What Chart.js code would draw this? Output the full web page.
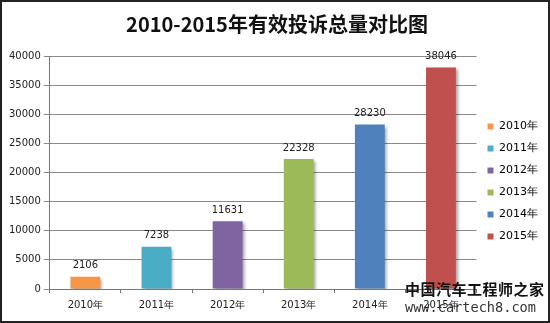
<!DOCTYPE html>
<html>
<head>
<meta charset="utf-8">
<script src="https://cdn.jsdelivr.net/npm/chart.js@4.4.0/dist/chart.umd.min.js"></script>
<style>
  html, body { margin: 0; padding: 0; background: #fff; }
  #wrap {
    position: relative;
    width: 550px;
    height: 323px;
    box-sizing: border-box;
    border: 2px solid #222;
    background: #fff;
  }
  #wm1, #wm2 { position: absolute; white-space: nowrap; }
  #wm1 {
    left: 403px; top: 276px;
    font: bold 15px "Noto Sans CJK SC", sans-serif;
    color: #111; letter-spacing: 0.5px;
  }
  #wm2 {
    left: 403px; top: 297px;
    font: 13.6px "DejaVu Sans Mono", monospace;
    color: #333;
  }
</style>
</head>
<body>
<div id="wrap">
  <canvas id="chart" width="546" height="319"></canvas>
  <div id="wm1">中国汽车工程师之家</div>
  <div id="wm2">www.cartech8.com</div>
</div>
<script>
const years = ["2010年", "2011年", "2012年", "2013年", "2014年", "2015年"];
const complaints = [2106, 7238, 11631, 22328, 28230, 38046];
const barColors = ["#F79646", "#4BACC6", "#8064A2", "#9BBB59", "#4F81BD", "#C0504D"];

// shadow under the bars, like the excel original
const barShadow = {
  id: "barShadow",
  beforeDatasetsDraw(chart) {
    const ctx = chart.ctx;
    ctx.save();
    ctx.shadowColor = "rgba(0,0,0,0.35)";
    ctx.shadowBlur = 3;
    ctx.shadowOffsetX = 2;
    ctx.shadowOffsetY = 2;
  },
  afterDatasetsDraw(chart) {
    chart.ctx.restore();
  },
};

// move the legend down a bit so it sits beside the middle of the plot
const legendShift = {
  id: "legendShift",
  afterLayout(chart) {
    chart.legend.top += 22;
    chart.legend.bottom += 22;
  },
};

const valueLabels = {
  id: "valueLabels",
  afterDraw(chart) {
    const ctx = chart.ctx;
    const meta = chart.getDatasetMeta(0);
    ctx.save();
    ctx.font = "10px 'DejaVu Sans', sans-serif";
    ctx.fillStyle = "#222";
    ctx.textAlign = "center";
    ctx.textBaseline = "bottom";
    meta.data.forEach((bar, i) => {
      ctx.fillText(complaints[i], bar.x, bar.y - 6);
    });
    ctx.restore();
  },
};

new Chart(document.getElementById("chart"), {
  type: "bar",
  data: {
    labels: years,
    datasets: [
      {
        data: complaints,
        backgroundColor: barColors,
        borderWidth: 0,
        categoryPercentage: 1,
        barPercentage: 0.42,
      },
    ],
  },
  options: {
    responsive: false,
    animation: false,
    layout: { padding: { top: 0, right: 0, bottom: 4, left: 4 } },
    scales: {
      x: {
        grid: {
          display: true,
          drawOnChartArea: false,
          color: "#777",
          tickLength: 4,
        },
        border: { color: "#777" },
        ticks: {
          color: "#222",
          font: { family: "DejaVu Sans", size: 10 },
          padding: 6,
        },
      },
      y: {
        min: 0,
        max: 40000,
        grid: { color: "#8a8a8a", tickLength: 6 },
        border: { color: "#777" },
        ticks: {
          stepSize: 5000,
          color: "#222",
          font: { family: "DejaVu Sans", size: 10 },
          padding: 3,
          callback: (v) => String(v),
        },
      },
    },
    plugins: {
      title: {
        display: true,
        text: "2010-2015年有效投诉总量对比图",
        color: "#111",
        font: { family: "Noto Sans CJK SC", size: 20, weight: "bold" },
        padding: { top: 10, bottom: 20 },
      },
      legend: {
        position: "right",
        labels: {
          boxWidth: 6,
          boxHeight: 6,
          padding: 11,
          color: "#222",
          font: { family: "DejaVu Sans", size: 11 },
          generateLabels: (chart) =>
            years.map((y, i) => ({
              text: y,
              fillStyle: barColors[i],
              strokeStyle: barColors[i],
              lineWidth: 0,
              index: i,
            })),
        },
      },
      tooltip: { enabled: false },
    },
  },
  plugins: [barShadow, legendShift, valueLabels],
});
</script>
</body>
</html>
